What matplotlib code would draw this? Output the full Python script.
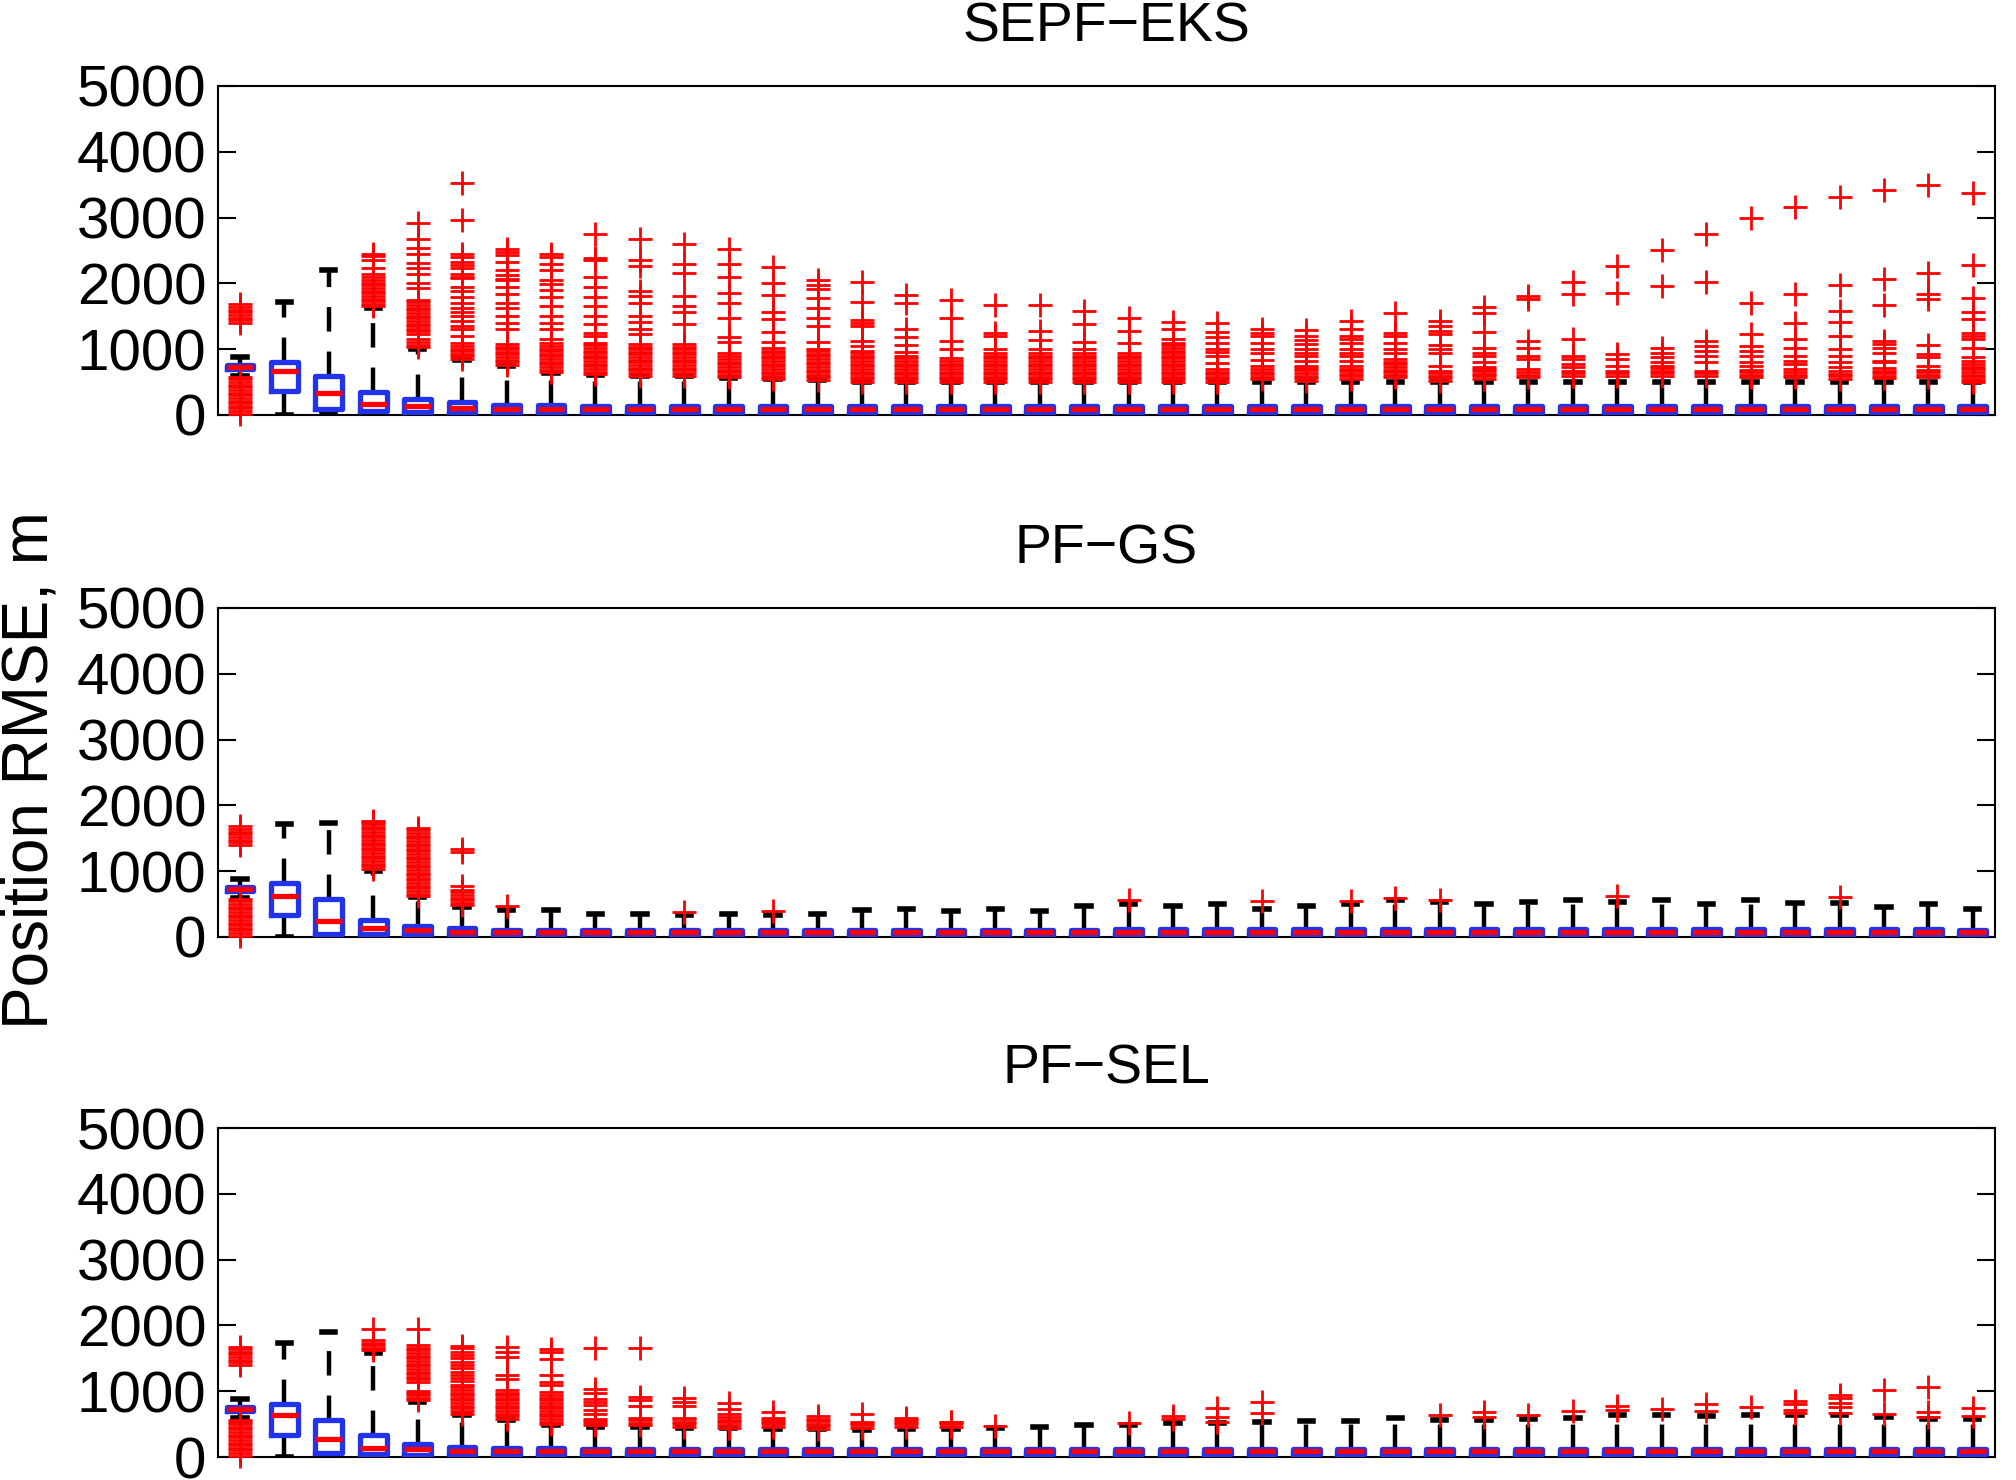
import matplotlib
matplotlib.use("Agg")
import matplotlib.pyplot as plt

plt.rcParams['font.family'] = ['Liberation Sans', 'DejaVu Sans']

titles = ["SEPF\u2212EKS", "PF\u2212GS", "PF\u2212SEL"]
ylabel = "Position RMSE, m"
yticks = [0, 1000, 2000, 3000, 4000, 5000]
n_boxes = 40

# first time step is identical for the three filters
box1_fliers = [20, 60, 100, 140, 180, 220, 260, 300, 340, 380, 420, 460, 500, 540, 570,
               1400, 1440, 1480, 1520, 1560, 1600, 1640, 1680]

# ---- SEPF-EKS ----
p1_q1 = [700, 370, 90, 55, 40, 30, 35, 35, 35, 35, 35, 35, 35, 35, 35, 35, 35, 35, 35, 35,
         35, 35, 35, 35, 35, 35, 35, 35, 35, 35, 35, 35, 35, 35, 35, 35, 35, 35, 35, 35]
p1_med = [730, 670, 330, 165, 130, 100, 95, 90, 90, 90, 85, 85, 85, 85, 85, 85, 85, 85, 85, 85,
          85, 85, 85, 85, 85, 85, 85, 85, 85, 85, 85, 85, 85, 85, 85, 85, 85, 85, 85, 85]
p1_q3 = [760, 800, 600, 350, 240, 200, 150, 145, 140, 140, 135, 135, 135, 135, 135, 135, 135, 135, 135, 135,
         135, 135, 135, 135, 135, 135, 135, 135, 135, 135, 135, 135, 135, 135, 135, 135, 135, 135, 135, 135]
p1_wlo = [600, 0, 20, 10, 5, 5, 0, 0, 0, 0, 0, 0, 0, 0, 0, 0, 0, 0, 0, 0,
          0, 0, 0, 0, 0, 0, 0, 0, 0, 0, 0, 0, 0, 0, 0, 0, 0, 0, 0, 0]
p1_whi = [875, 1720, 2210, 1620, 1000, 830, 740, 640, 615, 595, 595, 565, 540, 525, 495, 495, 495, 495, 495, 495,
          495, 495, 495, 495, 500, 500, 500, 500, 500, 500, 500, 500, 500, 500, 500, 500, 500, 500, 500, 495]
p1_fliers = [
    box1_fliers,
    [],
    [],
    [1650, 1690, 1730, 1770, 1810, 1850, 1890, 1930, 1970, 2010, 2050, 2100, 2150, 2240, 2350, 2410, 2450],
    [1030, 1070, 1110, 1150, 1230, 1270, 1310, 1350, 1390, 1430, 1470, 1510, 1550, 1590, 1630, 1670, 1710,
     1750, 1930, 2010, 2140, 2240, 2310, 2440, 2540, 2670, 2920],
    [850, 890, 930, 970, 1010, 1050, 1100, 1200, 1300, 1360, 1430, 1500, 1560, 1620, 1700, 1800, 1880,
     1950, 2080, 2100, 2150, 2230, 2280, 2330, 2400, 2440, 2960, 3530],
    [760, 800, 840, 880, 920, 960, 1000, 1040, 1080, 1300, 1400, 1500, 1620, 1700, 1840, 1950, 2050,
     2070, 2120, 2200, 2330, 2430, 2480, 2530],
    [650, 690, 730, 770, 810, 850, 890, 930, 970, 1010, 1050, 1100, 1150, 1300, 1400, 1500, 1650, 1800,
     1900, 1990, 2050, 2200, 2300, 2400, 2450],
    [620, 660, 700, 740, 780, 820, 860, 900, 940, 980, 1020, 1060, 1100, 1200, 1250, 1380, 1500, 1650,
     1800, 1950, 2100, 2350, 2380, 2750],
    [600, 640, 680, 720, 760, 800, 840, 880, 920, 960, 1000, 1040, 1080, 1230, 1300, 1410, 1510, 1700,
     1815, 1890, 2270, 2350, 2680],
    [600, 640, 680, 720, 760, 800, 840, 880, 920, 960, 1000, 1040, 1080, 1380, 1570, 1660, 1810, 2160,
     2290, 2600],
    [570, 610, 650, 690, 730, 770, 810, 850, 890, 940, 1110, 1190, 1480, 1700, 1860, 2090, 2290, 2520],
    [540, 580, 620, 660, 700, 740, 780, 820, 860, 900, 940, 980, 1020, 1110, 1260, 1460, 1570, 1830,
     2000, 2250],
    [530, 570, 610, 650, 690, 730, 770, 810, 850, 890, 930, 970, 1000, 1110, 1345, 1480, 1630, 1780,
     1910, 1975, 2050],
    [500, 540, 580, 620, 660, 700, 740, 780, 820, 860, 900, 940, 980, 1050, 1130, 1355, 1400, 1450,
     1710, 2015],
    [500, 540, 580, 620, 660, 700, 740, 780, 820, 860, 900, 960, 1060, 1190, 1300, 1700, 1830],
    [500, 540, 580, 620, 660, 700, 740, 780, 820, 870, 1010, 1120, 1480, 1750],
    [500, 540, 580, 620, 660, 700, 740, 780, 820, 860, 900, 940, 1000, 1200, 1250, 1675],
    [500, 540, 580, 620, 660, 700, 740, 780, 820, 860, 900, 940, 1000, 1140, 1280, 1675],
    [500, 540, 580, 620, 660, 700, 740, 780, 820, 860, 900, 940, 1000, 1110, 1380, 1585],
    [500, 540, 580, 620, 660, 700, 740, 780, 820, 860, 900, 940, 1100, 1270, 1470],
    [500, 540, 580, 620, 660, 700, 740, 780, 820, 860, 900, 940, 980, 1020, 1060, 1100, 1150, 1305, 1415],
    [500, 540, 580, 620, 660, 700, 797, 898, 950, 1000, 1100, 1178, 1254, 1396],
    [540, 580, 620, 660, 700, 746, 840, 949, 1010, 1090, 1203, 1250, 1305],
    [520, 560, 600, 640, 680, 720, 747, 823, 899, 949, 1010, 1076, 1141, 1202, 1288],
    [545, 585, 625, 665, 697, 747, 823, 889, 949, 1010, 1091, 1151, 1202, 1303, 1429],
    [571, 611, 651, 691, 731, 771, 811, 848, 939, 1010, 1091, 1202, 1252, 1545],
    [520, 560, 600, 640, 672, 747, 949, 1000, 1061, 1227, 1278, 1354, 1429],
    [545, 585, 625, 665, 705, 722, 798, 899, 949, 1025, 1268, 1556, 1646],
    [571, 611, 651, 697, 848, 899, 1025, 1126, 1758, 1808],
    [596, 636, 676, 722, 773, 848, 899, 1151, 1833, 2020],
    [596, 636, 672, 747, 848, 924, 1859, 2263],
    [596, 636, 676, 716, 747, 798, 874, 949, 1025, 1960, 2515],
    [596, 636, 672, 798, 899, 975, 1050, 1126, 2025, 2758],
    [571, 611, 651, 691, 747, 798, 899, 975, 1050, 1227, 1697, 2995],
    [571, 611, 651, 697, 773, 823, 899, 1025, 1162, 1404, 1833, 3157],
    [545, 585, 625, 665, 722, 798, 889, 1000, 1202, 1419, 1581, 1970, 3313],
    [555, 595, 635, 675, 715, 798, 823, 949, 1025, 1076, 1126, 1667, 2071, 3414],
    [571, 611, 651, 691, 747, 874, 924, 1066, 1758, 1833, 2162, 3495],
    [495, 535, 575, 615, 655, 695, 735, 775, 815, 874, 1025, 1151, 1202, 1253, 1455, 1571, 1773, 2273, 3374],
]

# ---- PF-GS ----
p2_q1 = [700, 340, 50, 45, 30, 25, 30, 30, 30, 30, 30, 30, 30, 30, 30, 30, 30, 30, 30, 30,
         30, 30, 30, 30, 30, 30, 30, 30, 30, 30, 30, 30, 30, 30, 30, 30, 30, 30, 30, 30]
p2_med = [730, 630, 250, 135, 100, 80, 70, 70, 70, 70, 70, 70, 70, 70, 70, 70, 70, 70, 70, 70,
          70, 70, 70, 70, 70, 70, 75, 75, 75, 75, 75, 75, 75, 75, 75, 75, 75, 75, 70, 70]
p2_q3 = [760, 820, 580, 260, 170, 140, 110, 110, 110, 110, 110, 110, 110, 110, 110, 110, 110, 110, 110, 110,
         115, 115, 115, 115, 115, 115, 120, 120, 120, 120, 120, 120, 120, 120, 120, 120, 120, 115, 115, 110]
p2_wlo = [600, 0, 10, 5, 5, 0, 0, 0, 0, 0, 0, 0, 0, 0, 0, 0, 0, 0, 0, 0,
          0, 0, 0, 0, 0, 0, 0, 0, 0, 0, 0, 0, 0, 0, 0, 0, 0, 0, 0, 0]
p2_whi = [880, 1720, 1725, 1000, 605, 455, 414, 404, 354, 354, 330, 354, 340, 354, 404, 429, 394, 429, 394, 465,
          505, 465, 505, 429, 465, 495, 556, 530, 505, 530, 566, 530, 566, 505, 556, 515, 515, 455, 505, 429]
p2_fliers = [
    box1_fliers,
    [],
    [],
    [1035, 1075, 1115, 1155, 1195, 1235, 1275, 1315, 1355, 1395, 1435, 1475, 1515, 1555, 1595, 1635,
     1675, 1715, 1750, 1770],
    [620, 660, 700, 740, 780, 820, 860, 900, 940, 980, 1020, 1060, 1100, 1140, 1180, 1220, 1260, 1300,
     1340, 1380, 1420, 1460, 1500, 1540, 1580, 1620, 1660],
    [480, 520, 560, 600, 640, 680, 720, 770, 1290, 1330],
    [470], [], [], [], [380], [], [390], [], [], [], [], [], [], [],
    [556], [], [], [540], [], [540], [596], [556], [], [],
    [], [621], [], [], [], [], [606], [], [], [],
]

# ---- PF-SEL ----
p3_q1 = [700, 335, 55, 45, 30, 35, 35, 35, 40, 40, 40, 40, 40, 40, 40, 40, 40, 40, 40, 40,
         40, 40, 40, 40, 40, 40, 40, 40, 40, 40, 40, 40, 40, 40, 40, 40, 40, 40, 40, 40]
p3_med = [730, 635, 280, 140, 115, 95, 90, 90, 85, 85, 85, 85, 85, 85, 85, 85, 85, 85, 85, 85,
          85, 85, 85, 85, 85, 85, 85, 85, 85, 85, 85, 85, 85, 85, 85, 85, 85, 85, 85, 85]
p3_q3 = [760, 810, 570, 330, 205, 160, 140, 135, 130, 130, 125, 125, 125, 125, 125, 125, 125, 125, 125, 125,
         125, 125, 125, 125, 125, 125, 130, 130, 130, 130, 130, 130, 130, 130, 130, 130, 130, 130, 130, 125]
p3_wlo = [600, 0, 10, 5, 5, 0, 0, 0, 0, 0, 0, 0, 0, 0, 0, 0, 0, 0, 0, 0,
          0, 0, 0, 0, 0, 0, 0, 0, 0, 0, 0, 0, 0, 0, 0, 0, 0, 0, 0, 0]
p3_whi = [880, 1730, 1900, 1580, 840, 635, 570, 485, 460, 460, 435, 435, 420, 420, 411, 430, 420, 437, 462, 482,
          487, 523, 513, 538, 548, 548, 599, 563, 563, 574, 589, 640, 640, 624, 640, 640, 640, 614, 574, 574]
p3_fliers = [
    box1_fliers,
    [],
    [],
    [1620, 1660, 1700, 1740, 1780, 1950],
    [860, 900, 940, 980, 1010, 1140, 1180, 1220, 1260, 1300, 1340, 1380, 1420, 1460, 1500, 1540, 1580,
     1620, 1660, 1700, 1950],
    [660, 700, 740, 780, 820, 860, 900, 940, 980, 1020, 1060, 1100, 1150, 1200, 1250, 1300, 1350, 1400,
     1450, 1500, 1550, 1600, 1650, 1690],
    [580, 620, 660, 700, 740, 780, 820, 860, 900, 940, 980, 1013, 1190, 1240, 1518, 1594, 1669],
    [500, 540, 580, 620, 660, 700, 740, 780, 820, 860, 900, 940, 988, 1089, 1140, 1240, 1493, 1594, 1644],
    [484, 520, 555, 585, 661, 711, 787, 837, 888, 973, 1039, 1659],
    [484, 520, 560, 600, 772, 860, 913, 1659],
    [459, 500, 540, 580, 600, 772, 837, 903],
    [449, 490, 530, 570, 610, 661, 736, 822],
    [459, 500, 540, 560, 600, 686],
    [434, 470, 510, 545, 580, 620],
    [440, 480, 515, 540, 655],
    [460, 500, 540, 563, 589],
    [460, 495, 530, 538],
    [477],
    [], [],
    [513],
    [574, 624],
    [538, 614, 741],
    [675, 838],
    [], [], [],
    [640],
    [614, 680],
    [640],
    [700],
    [716, 777],
    [726],
    [700, 807],
    [767],
    [675, 716, 807, 858],
    [675, 767, 827, 893, 944],
    [650, 1020],
    [614, 690, 1061],
    [624, 751],
]

panels = [
    (p1_q1, p1_med, p1_q3, p1_wlo, p1_whi, p1_fliers),
    (p2_q1, p2_med, p2_q3, p2_wlo, p2_whi, p2_fliers),
    (p3_q1, p3_med, p3_q3, p3_wlo, p3_whi, p3_fliers),
]

box_blue = '#2233ee'
bottoms = [0.7196, 0.3669, 0.0155]

fig = plt.figure(figsize=(20.16, 14.8), dpi=100)

for i, (q1, med, q3, wlo, whi, fliers) in enumerate(panels):
    ax = fig.add_axes([0.108, bottoms[i], 0.8816, 0.2223])
    stats = []
    for k in range(n_boxes):
        stats.append(dict(q1=q1[k], med=med[k], q3=q3[k],
                          whislo=wlo[k], whishi=whi[k], fliers=fliers[k]))
    art = ax.bxp(stats, positions=range(1, n_boxes + 1), widths=0.6, capwidths=0.3,
                 showfliers=True, manage_ticks=False,
                 boxprops=dict(color=box_blue, linewidth=3.8, zorder=3),
                 medianprops=dict(color='red', linewidth=3.8, solid_capstyle='butt', zorder=4),
                 whiskerprops=dict(color='black', linewidth=3.2, linestyle=(0, (5.5, 4.5)), zorder=2),
                 capprops=dict(color='black', linewidth=4.0, zorder=2),
                 flierprops=dict(marker='+', markeredgecolor='red', markersize=17,
                                 markeredgewidth=2.0, linestyle='none', zorder=5))
    for fl in art['fliers']:
        fl.set_clip_on(False)

    ax.set_xlim(0.5, n_boxes + 0.5)
    ax.set_ylim(0, 5000)
    ax.set_xticks([])
    ax.set_yticks(yticks)
    ax.set_yticklabels([str(t) for t in yticks])
    ax.tick_params(axis='y', direction='in', length=13, width=1.5, labelsize=42,
                   right=True, pad=8)
    for sp in ax.spines.values():
        sp.set_linewidth(1.5)
    ax.set_title(titles[i], fontsize=40, pad=32)

fig.text(0.015, 0.48, ylabel, rotation=90, ha='center', va='center', fontsize=46)

fig.savefig("out.png", dpi=100)
